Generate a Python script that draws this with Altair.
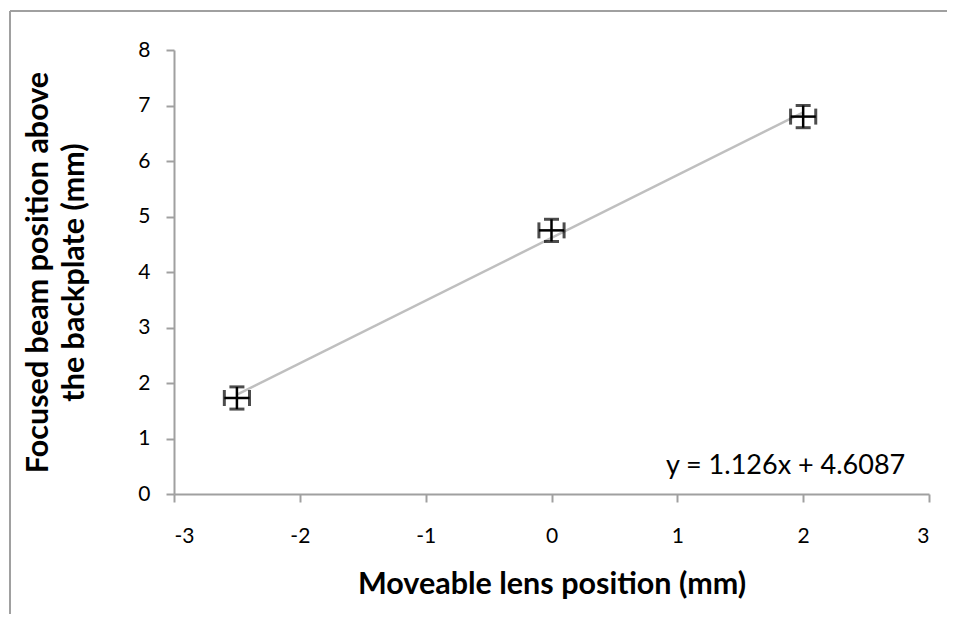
import altair as alt
import pandas as pd

# Data
lens_pos = [-2.5, 0.0, 2.0]          # Moveable lens position (mm)
beam_pos = [1.73, 4.75, 6.80]        # Focused beam position (mm)
x_err = [0.1, 0.1, 0.1]
y_err = [0.2, 0.2, 0.2]
x_ticks = [-3, -2, -1, 0, 1, 2, 3]
y_ticks = [0, 1, 2, 3, 4, 5, 6, 7, 8]
equation_text = ["y = 1.126x + 4.6087"]
eq_x = [1.86]
eq_y = [0.5]

df = pd.DataFrame({"x": lens_pos, "y": beam_pos, "xe": x_err, "ye": y_err})
df["xlo"] = df["x"] - df["xe"]
df["xhi"] = df["x"] + df["xe"]
df["ylo"] = df["y"] - df["ye"]
df["yhi"] = df["y"] + df["ye"]

FONT = "Lato"
W, H = 755, 444
PAD = {"left": 166, "top": 42, "right": 18, "bottom": 120}

xs = alt.Scale(domain=[-3, 3], nice=False, zero=False)
ys = alt.Scale(domain=[0, 8], nice=False, zero=False)

LBL = "'' + datum.value"
xax = alt.Axis(values=x_ticks, title="Moveable lens position (mm)", labelExpr=LBL,
               labelPadding=23, titlePadding=23)
yax = alt.Axis(values=y_ticks, title=["Focused beam position above", "the backplate (mm)"],
               labelExpr=LBL, labelPadding=16, titlePadding=48)

base = alt.Chart(df)

trend = base.transform_regression("x", "y", extent=[-2.5, 2.0]).mark_line(
    color="#bfbfbf", strokeWidth=2.5
).encode(x=alt.X("x:Q", scale=xs, axis=xax), y=alt.Y("y:Q", scale=ys, axis=yax))

hbar = base.mark_rule(color="black", strokeWidth=2.5).encode(
    x=alt.X("xlo:Q", scale=xs), x2="xhi:Q", y=alt.Y("y:Q", scale=ys))
vbar = base.mark_rule(color="black", strokeWidth=2.5).encode(
    y=alt.Y("ylo:Q", scale=ys), y2="yhi:Q", x=alt.X("x:Q", scale=xs))

cap_l = base.mark_tick(color="black", orient="vertical", size=16, thickness=3).encode(
    x=alt.X("xlo:Q", scale=xs), y=alt.Y("y:Q", scale=ys))
cap_r = base.mark_tick(color="black", orient="vertical", size=16, thickness=3).encode(
    x=alt.X("xhi:Q", scale=xs), y=alt.Y("y:Q", scale=ys))
cap_b = base.mark_tick(color="black", orient="horizontal", size=15, thickness=3).encode(
    x=alt.X("x:Q", scale=xs), y=alt.Y("ylo:Q", scale=ys))
cap_t = base.mark_tick(color="black", orient="horizontal", size=15, thickness=3).encode(
    x=alt.X("x:Q", scale=xs), y=alt.Y("yhi:Q", scale=ys))

eq_df = pd.DataFrame({"t": equation_text, "x": eq_x, "y": eq_y})
eq = alt.Chart(eq_df).mark_text(font=FONT, fontSize=27, color="black", align="center",
                                 baseline="middle").encode(
    x=alt.X("x:Q", scale=xs), y=alt.Y("y:Q", scale=ys), text="t:N")

# outer chart frame (only top and left edges are inside the picture)
frame_top = alt.Chart(eq_df).mark_rule(stroke="#a0a0a0", strokeWidth=2).encode(
    x=alt.value(-164), x2=alt.value(W + PAD["right"]), y=alt.value(-39))
frame_left = alt.Chart(eq_df).mark_rule(stroke="#a0a0a0", strokeWidth=2).encode(
    x=alt.value(-164), y=alt.value(-39), y2=alt.value(H + PAD["bottom"]))

chart = alt.layer(frame_top, frame_left, trend, hbar, vbar, cap_l, cap_r, cap_b, cap_t, eq).properties(
    width=W, height=H,
    autosize=alt.AutoSizeParams(type="none"),
    padding=PAD,
).configure_view(stroke=None).configure_axis(
    grid=False,
    domainColor="#a0a0a0", domainWidth=2,
    tickColor="#a0a0a0", tickWidth=2, tickSize=8,
    labelFont=FONT, labelFontSize=21, labelColor="black",
    titleFont=FONT, titleFontSize=30.5, titleFontWeight="bold", titleColor="black",
    titleLineHeight=36,
)

chart.save("out.html", embed_options={"renderer": "svg", "actions": False})
